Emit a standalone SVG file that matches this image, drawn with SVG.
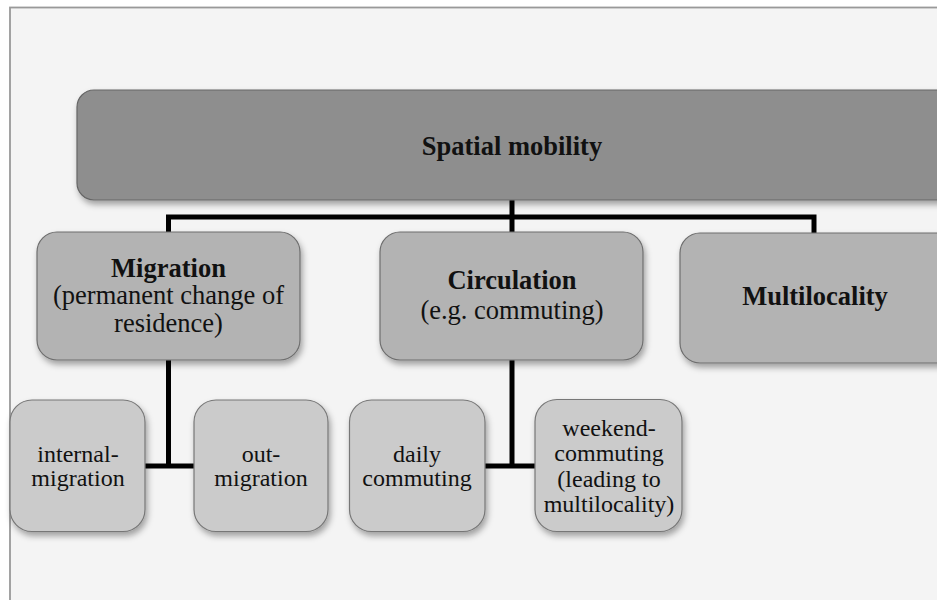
<svg xmlns="http://www.w3.org/2000/svg" width="937" height="600" viewBox="0 0 937 600">
<defs>
<filter id="sh" x="-10%" y="-10%" width="125%" height="130%">
<feDropShadow dx="2" dy="4" stdDeviation="3" flood-color="#000" flood-opacity="0.35"/>
</filter>
</defs>
<style>
.l0{fill:#8e8e8e;stroke:#666;stroke-width:1.2;filter:url(#sh)}
.l1{fill:#b3b3b3;stroke:#6e6e6e;stroke-width:1.2;filter:url(#sh)}
.l2{fill:#cbcbcb;stroke:#777;stroke-width:1.2;filter:url(#sh)}
text{font-family:"Liberation Serif","Times New Roman",serif;fill:#111;text-anchor:middle}
.b{font-weight:bold;font-size:26.5px}
.r{font-size:26.5px}
.s{font-size:24px}
.c{fill:none;stroke:#000;stroke-width:5;stroke-linecap:square}
</style>
<rect x="0" y="0" width="937" height="600" fill="#fff"/>
<rect x="10" y="7.5" width="940" height="600" fill="#f4f4f4" stroke="#999" stroke-width="1.8"/>
<g id="connectors">
<path class="c" d="M512,200 V232 M168.5,232 V217 H814 V232"/>
<path class="c" d="M168.5,360 V466 M145,466 H194"/>
<path class="c" d="M512,360 V466 M485,466 H535"/>
</g>
<g id="spatial-mobility">
<rect class="l0" x="77" y="90" width="880" height="110" rx="17"/>
<text class="b" x="512" y="155">Spatial mobility</text>
</g>
<g id="migration">
<rect class="l1" x="37" y="232" width="263" height="128" rx="20"/>
<text class="b" x="168.5" y="276.5">Migration</text>
<text class="r" x="168.5" y="304">(permanent change of</text>
<text class="r" x="168.5" y="332">residence)</text>
</g>
<g id="circulation">
<rect class="l1" x="380" y="232" width="263" height="128" rx="20"/>
<text class="b" x="512" y="289">Circulation</text>
<text class="r" x="512" y="319">(e.g. commuting)</text>
</g>
<g id="multilocality">
<rect class="l1" x="680" y="233" width="280" height="130" rx="20"/>
<text class="b" x="815" y="305">Multilocality</text>
</g>
<g id="internal-migration">
<rect class="l2" x="10" y="400" width="135" height="131.5" rx="22"/>
<text class="s" x="78" y="461.5">internal-</text>
<text class="s" x="78" y="486">migration</text>
</g>
<g id="out-migration">
<rect class="l2" x="194" y="400" width="134" height="131.5" rx="22"/>
<text class="s" x="261" y="461.5">out-</text>
<text class="s" x="261" y="486">migration</text>
</g>
<g id="daily-commuting">
<rect class="l2" x="349.5" y="400" width="135.5" height="131.5" rx="22"/>
<text class="s" x="417" y="461.5">daily</text>
<text class="s" x="417" y="486">commuting</text>
</g>
<g id="weekend-commuting">
<rect class="l2" x="535" y="399.5" width="147" height="132" rx="22"/>
<text class="s" x="609" y="436">weekend-</text>
<text class="s" x="609" y="461.3">commuting</text>
<text class="s" x="609" y="486.6">(leading to</text>
<text class="s" x="609" y="512">multilocality)</text>
</g>
</svg>
